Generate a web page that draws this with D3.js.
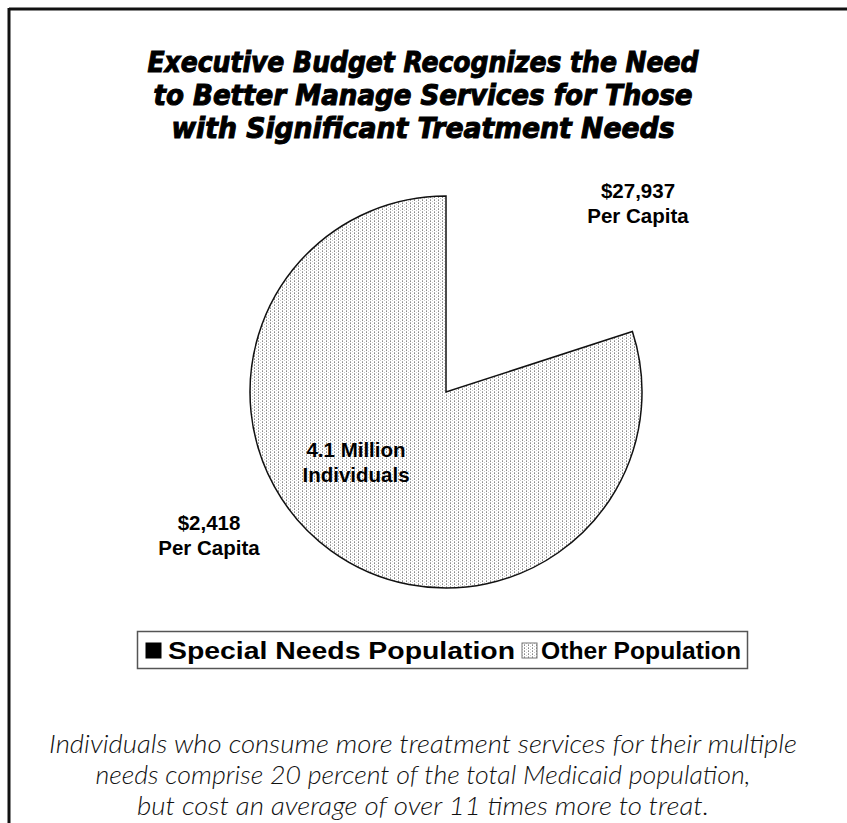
<!DOCTYPE html>
<html>
<head>
<meta charset="utf-8">
<script src="https://cdn.jsdelivr.net/npm/d3@7"></script>
<style>
  html, body { margin: 0; padding: 0; background: #fff; }
  svg { display: block; }
</style>
</head>
<body>
<svg id="chart" width="847" height="823"></svg>
<script>
// Population groups and their share of Medicaid enrollees (percent)
const categories = ["Special Needs Population", "Other Population"];
const shares = [20, 80];
const perCapita = ["$27,937", "$2,418"];
const centerLabel = ["4.1 Million", "Individuals"];

const titleLines = [
  "Executive Budget Recognizes the Need",
  "to Better Manage Services for Those",
  "with Significant Treatment Needs"
];
const captionLines = [
  "Individuals who consume more treatment services for their multiple",
  "needs comprise 20 percent of the total Medicaid population,",
  "but cost an average of over 11 times more to treat."
];

const svg = d3.select("#chart");
const W = 847, H = 823;

// dotted fill used for the "Other Population" slice
const defs = svg.append("defs");
const pat = defs.append("pattern")
  .attr("id", "dots").attr("patternUnits", "userSpaceOnUse")
  .attr("width", 4).attr("height", 3);
pat.append("rect").attr("width", 4).attr("height", 3).attr("fill", "#fff");
pat.append("rect").attr("x", 0).attr("y", 0).attr("width", 1).attr("height", 1).attr("fill", "#8a8a8a");
pat.append("rect").attr("x", 2).attr("y", 1).attr("width", 1).attr("height", 1).attr("fill", "#c8c8c8");
pat.append("rect").attr("x", 0).attr("y", 2).attr("width", 1).attr("height", 1).attr("fill", "#b0b0b0");

const fills = ["none", "url(#dots)"];
const legendFills = ["#000", "url(#dots)"];

// frame (top and left rules)
svg.append("line").attr("x1", 9).attr("x2", W).attr("y1", 9).attr("y2", 9)
  .attr("stroke", "#111").attr("stroke-width", 3);
svg.append("line").attr("x1", 9).attr("x2", 9).attr("y1", 8).attr("y2", H)
  .attr("stroke", "#111").attr("stroke-width", 3);

// title
const titleWidths = [551, 539, 503];
svg.append("g").selectAll("text").data(titleLines).join("text")
  .attr("x", 423)
  .attr("y", (d, i) => 72 + i * 33)
  .attr("text-anchor", "middle")
  .attr("font-family", "'Liberation Sans Narrow', 'DejaVu Sans Condensed', sans-serif")
  .attr("font-weight", "bold").attr("font-style", "italic")
  .attr("font-size", 28.5)
  .attr("stroke", "#000").attr("stroke-width", 1)
  .attr("textLength", (d, i) => titleWidths[i])
  .attr("lengthAdjust", "spacingAndGlyphs")
  .text(d => d);

// pie
const cx = 446, cy = 392, R = 196;
const pie = d3.pie().sort(null).value(d => d);
const arc = d3.arc().innerRadius(0).outerRadius(R);
const arcs = pie(shares);
const gPie = svg.append("g").attr("transform", `translate(${cx},${cy})`);
gPie.selectAll("path").data(arcs).join("path")
  .attr("d", arc)
  .attr("fill", (d, i) => fills[i])
  .attr("stroke", (d, i) => i === 0 ? "none" : "#111")
  .attr("stroke-width", 1.5)
  .attr("stroke-linejoin", "miter");

const labelFont = "'Liberation Sans', Arial, sans-serif";
function twoLine(x, y, lines, size) {
  svg.append("g").selectAll("text").data(lines).join("text")
    .attr("x", x).attr("y", (d, i) => y + i * 25)
    .attr("text-anchor", "middle")
    .attr("font-family", labelFont).attr("font-weight", "bold")
    .attr("font-size", size).attr("fill", "#000")
    .text(d => d);
}
twoLine(638, 198, [perCapita[0], "Per Capita"], 20.5);
twoLine(209, 530, [perCapita[1], "Per Capita"], 20.5);
twoLine(356, 457, centerLabel, 20.5);

// legend
const lg = svg.append("g");
lg.append("rect").attr("x", 137.5).attr("y", 631.5).attr("width", 610).attr("height", 37)
  .attr("fill", "#fff").attr("stroke", "#555").attr("stroke-width", 1.5);
const legendItems = [
  { sx: 146, tx: 168, tw: 347 },
  { sx: 522, tx: 541, tw: 200 }
];
lg.selectAll("rect.sw").data(categories).join("rect").attr("class", "sw")
  .attr("x", (d, i) => legendItems[i].sx).attr("y", 643)
  .attr("width", 15).attr("height", 15)
  .attr("fill", (d, i) => legendFills[i])
  .attr("stroke", (d, i) => i === 0 ? "#000" : "#777").attr("stroke-width", 1);
lg.selectAll("text").data(categories).join("text")
  .attr("x", (d, i) => legendItems[i].tx).attr("y", 659)
  .attr("font-family", labelFont).attr("font-weight", "bold")
  .attr("font-size", 23)
  .attr("textLength", (d, i) => legendItems[i].tw)
  .attr("lengthAdjust", "spacingAndGlyphs")
  .text(d => d);

// caption
const capWidths = [748, 655, 572];
svg.append("g").selectAll("text").data(captionLines).join("text")
  .attr("x", 423)
  .attr("y", (d, i) => 753 + i * 31)
  .attr("text-anchor", "middle")
  .attr("font-family", "Lato, 'Open Sans', sans-serif")
  .attr("font-weight", 300).attr("font-style", "italic")
  .attr("font-size", 26)
  .attr("fill", "#111")
  .attr("textLength", (d, i) => capWidths[i])
  .attr("lengthAdjust", "spacingAndGlyphs")
  .text(d => d);
</script>
</body>
</html>
